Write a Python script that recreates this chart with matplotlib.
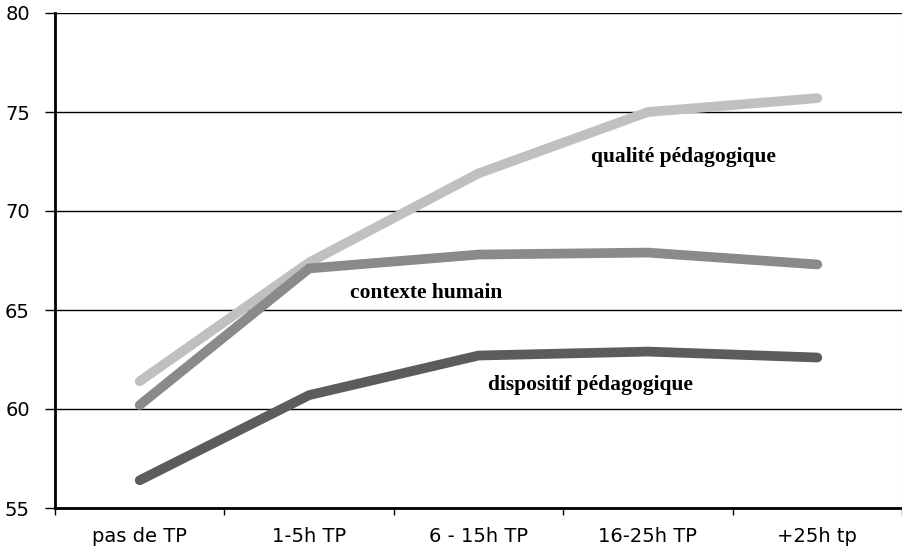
import matplotlib
matplotlib.use("Agg")
import matplotlib.pyplot as plt
import numpy as np

categories = ["pas de TP", "1-5h TP", "6 - 15h TP", "16-25h TP", "+25h tp"]
qualite = [61.4, 67.4, 71.9, 75.0, 75.7]
contexte = [60.2, 67.1, 67.8, 67.9, 67.3]
dispositif = [56.4, 60.7, 62.7, 62.9, 62.6]

series = [
    (qualite, "#c0c0c0", "qualité pédagogique", 3.21, 72.75),
    (contexte, "#8a8a8a", "contexte humain", 1.69, 65.85),
    (dispositif, "#5c5c5c", "dispositif pédagogique", 2.66, 61.2),
]

fig = plt.figure(figsize=(9.03, 5.5), dpi=100)
ax = fig.add_axes([55 / 903, 1 - 508 / 550, 847 / 903, 495 / 550])

x = np.arange(len(categories))
for vals, col, label, tx, ty in series:
    ax.plot(x, vals, color=col, lw=7, solid_capstyle="round",
            solid_joinstyle="miter", zorder=3)
    ax.text(tx, ty, label, ha="center", va="center", fontsize=15.5,
            fontweight="bold", family="Liberation Serif", color="black")

ax.set_xlim(-0.5, 4.5)
ax.set_ylim(55, 80)
ax.set_yticks(range(55, 81, 5))
ax.yaxis.grid(True, color="black", lw=1.0)
ax.set_axisbelow(True)

ax.set_xticks(x)
ax.set_xticklabels(categories)
ax.set_xticks(np.arange(-0.5, 4.6, 1), minor=True)
ax.tick_params(axis="x", which="major", length=0, pad=14, labelsize=14)
ax.tick_params(axis="x", which="minor", length=5, width=1, direction="out")
ax.tick_params(axis="y", length=7, width=1, direction="out", pad=11, labelsize=14)
for lab in ax.get_xticklabels() + ax.get_yticklabels():
    lab.set_family("DejaVu Sans")

ax.spines["top"].set_visible(False)
ax.spines["right"].set_color("#cccccc")
ax.spines["left"].set_linewidth(2)
ax.spines["bottom"].set_linewidth(2)

fig.savefig("out.png", dpi=100)
